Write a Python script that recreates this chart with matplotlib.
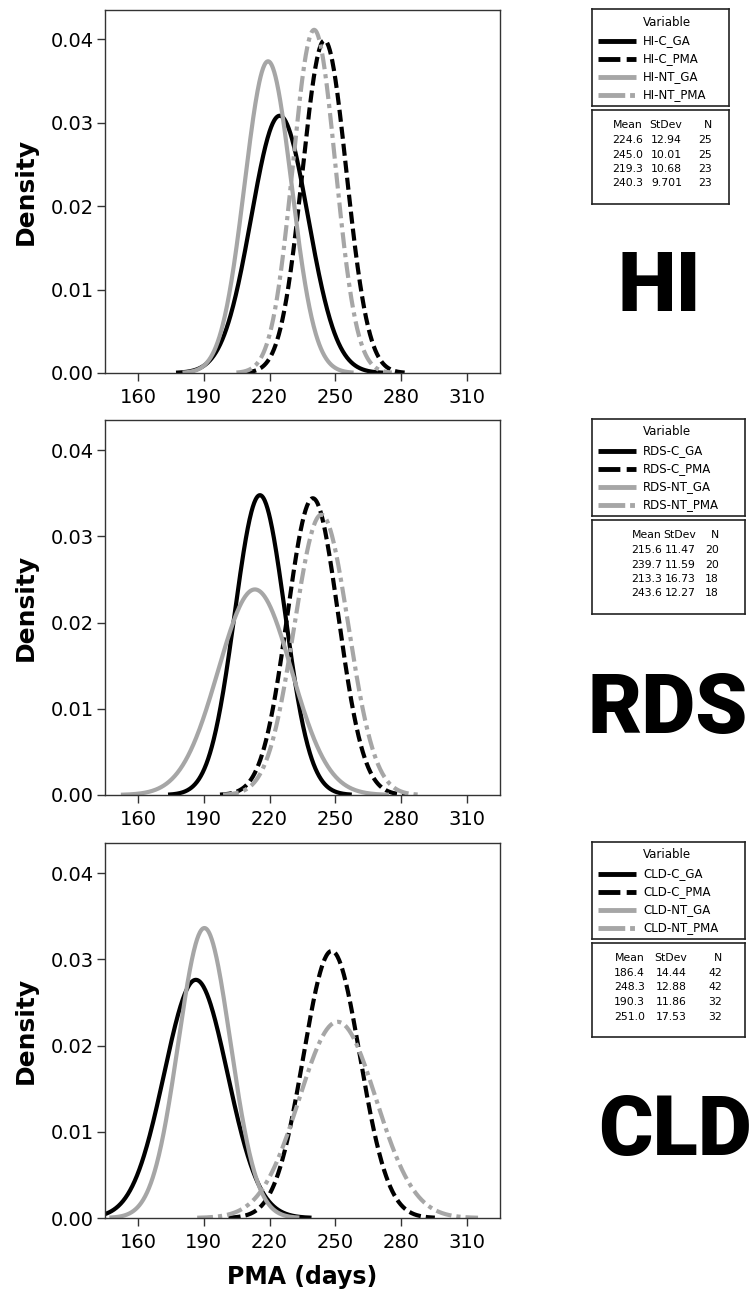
import numpy as np
import matplotlib
matplotlib.use('Agg')
import matplotlib.pyplot as plt

# summary statistics shown in each panel (Minitab normal fits)
panel_names = ['HI', 'RDS', 'CLD']
group_suffixes = ['C_GA', 'C_PMA', 'NT_GA', 'NT_PMA']

hi_mean = [224.6, 245.0, 219.3, 240.3]
hi_sd = [12.94, 10.01, 10.68, 9.701]
hi_n = [25, 25, 23, 23]

rds_mean = [215.6, 239.7, 213.3, 243.6]
rds_sd = [11.47, 11.59, 16.73, 12.27]
rds_n = [20, 20, 18, 18]

cld_mean = [186.4, 248.3, 190.3, 251.0]
cld_sd = [14.44, 12.88, 11.86, 17.53]
cld_n = [42, 42, 32, 32]

x_ticks = [160, 190, 220, 250, 280, 310]
y_ticks = [0.00, 0.01, 0.02, 0.03, 0.04]

W, H = 752, 1296
GRAY = '#a6a6a6'
colors = ['black', 'black', GRAY, GRAY]
plot_dashes = [None, (2.9, 1.2), None, (3.8, 1.2, 1.0, 1.2)]
legend_dashes = [None, (4.5, 1.3), None, (5.5, 1.0, 1.0, 1.0)]


def px_rect(left, top, right, bottom):
    """Convert pixel box (from top-left) into figure fraction rect."""
    return [left / W, 1 - bottom / H, (right - left) / W, (bottom - top) / H]


def normal_pdf(x, mu, sd):
    return np.exp(-0.5 * ((x - mu) / sd) ** 2) / (sd * np.sqrt(2 * np.pi))


fig = plt.figure(figsize=(W / 100, H / 100), dpi=100)
plt.rcParams['font.family'] = ['DejaVu Sans']

panels = [
    (panel_names[0], hi_mean, hi_sd, hi_n),
    (panel_names[1], rds_mean, rds_sd, rds_n),
    (panel_names[2], cld_mean, cld_sd, cld_n),
]
# layout in pixels: axes (top, bottom), legend box width, table column right edges, big label
axes_tb = [(10, 373), (420, 795), (843, 1218)]
box_right = [729, 745, 745]
table_cols = [(51, 90, 120), (70, 104, 127), (53, 95, 130)]
big_xy = [(618, 311), (588, 733), (598, 1155)]

for i, (name, means, sds, ns) in enumerate(panels):
    top, bottom = axes_tb[i]
    ax = fig.add_axes(px_rect(105, top, 500, bottom))
    for j in range(4):
        xs = np.linspace(means[j] - 3.65 * sds[j], means[j] + 3.65 * sds[j], 400)
        line, = ax.plot(xs, normal_pdf(xs, means[j], sds[j]), color=colors[j], lw=3,
                        solid_capstyle='butt')
        if plot_dashes[j] is not None:
            line.set_dashes(plot_dashes[j])
    ax.set_xlim(145, 325)
    ax.set_ylim(0, 0.0435)
    ax.set_xticks(x_ticks)
    ax.set_yticks(y_ticks)
    ax.set_yticklabels([f'{v:.2f}' for v in y_ticks])
    ax.tick_params(axis='x', length=6, width=1, pad=5, labelsize=14, color='#333333')
    ax.tick_params(axis='y', length=6, width=1, pad=2, labelsize=14, color='#333333')
    for sp in ax.spines.values():
        sp.set_linewidth(1.0)
        sp.set_color('#333333')

    fig.text(26 / W, 1 - ((top + bottom) / 2) / H, 'Density', rotation=90,
             ha='center', va='center', fontsize=18, fontweight='bold')

    # legend box
    bw = box_right[i] - 592
    lax = fig.add_axes(px_rect(592, top - 1, box_right[i], top + 96))
    lax.set_xlim(0, bw)
    lax.set_ylim(97, 0)
    lax.set_xticks([])
    lax.set_yticks([])
    for sp in lax.spines.values():
        sp.set_linewidth(1.2)
        sp.set_color('#222222')
    lax.text(75, 13, 'Variable', ha='center', va='center', fontsize=8.5)
    for j in range(4):
        yy = 32 + j * 18
        seg, = lax.plot([6, 44], [yy, yy], color=colors[j], lw=3.5, solid_capstyle='butt')
        if legend_dashes[j] is not None:
            seg.set_dashes(legend_dashes[j])
        lax.text(51, yy, f'{name}-{group_suffixes[j]}', ha='left', va='center', fontsize=8.5)

    # statistics table box
    tax = fig.add_axes(px_rect(592, top + 100, box_right[i], top + 194))
    tax.set_xlim(0, bw)
    tax.set_ylim(94, 0)
    tax.set_xticks([])
    tax.set_yticks([])
    for sp in tax.spines.values():
        sp.set_linewidth(1.2)
        sp.set_color('#222222')
    c_mean, c_sd, c_n = table_cols[i]
    tax.text(c_mean, 15, 'Mean', ha='right', va='center', fontsize=7.8)
    tax.text(c_sd, 15, 'StDev', ha='right', va='center', fontsize=7.8)
    tax.text(c_n, 15, 'N', ha='right', va='center', fontsize=7.8)
    for j in range(4):
        yy = 30 + j * 14.5
        tax.text(c_mean, yy, f'{means[j]:.1f}', ha='right', va='center', fontsize=7.8)
        tax.text(c_sd, yy, f'{sds[j]:#.4g}', ha='right', va='center', fontsize=7.8)
        tax.text(c_n, yy, str(ns[j]), ha='right', va='center', fontsize=7.8)

    bx, by = big_xy[i]
    fig.text(bx / W, 1 - by / H, name, ha='left', va='baseline', fontsize=60,
             fontweight='black', family=['Roboto', 'DejaVu Sans'])

fig.text(302 / W, 1 - 1277 / H, 'PMA (days)', ha='center', va='center',
         fontsize=17, fontweight='bold')

fig.savefig('out.png', dpi=100)
